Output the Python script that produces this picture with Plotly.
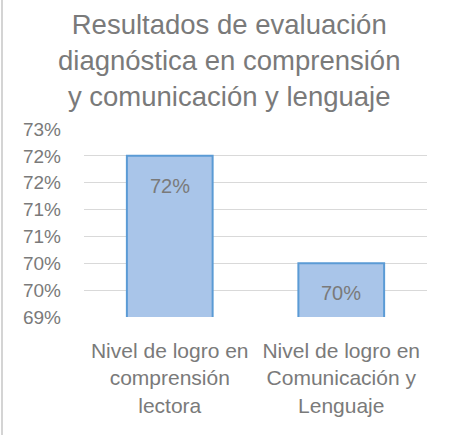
import plotly.graph_objects as go

categories = ["Nivel de logro en<br>comprensión<br>lectora",
              "Nivel de logro en<br>Comunicación y<br>Lenguaje"]
values = [0.72, 0.70]
value_labels = ["72%", "70%"]
tick_vals = [0.69, 0.695, 0.70, 0.705, 0.71, 0.715, 0.72, 0.725]
tick_labels = ["69%", "70%", "70%", "71%", "71%", "72%", "72%", "73%"]
title_text = "Resultados de evaluación<br>diagnóstica en comprensión<br>y comunicación y lenguaje"

W, H = 451, 435
ML, MR, MT, MB = 84, 24, 129, 118
TXT = "#7a7a7a"
FONT = "Liberation Sans, Arial, sans-serif"

ph = H - MT - MB
pw = W - ML - MR

def px_x(p):
    return (p - ML) / pw

def px_y(p):
    return (H - MB - p) / ph

fig = go.Figure()
fig.add_trace(go.Bar(
    x=categories, y=values,
    marker=dict(color="#a9c5e9", line=dict(color="#5b9bd5", width=2)),
    hoverinfo="skip",
))

for c, v, t in zip(categories, values, value_labels):
    fig.add_annotation(x=c, y=v, text=t, showarrow=False, yanchor="middle",
                       yshift=-30, font=dict(family=FONT, size=20, color=TXT))

# title
fig.add_annotation(xref="paper", yref="paper", x=px_x(229), y=px_y(7),
                   xanchor="center", yanchor="top", showarrow=False,
                   text=title_text, align="center",
                   font=dict(family=FONT, size=27.5, color=TXT))

# chart-area left border
fig.add_shape(type="line", xref="paper", yref="paper",
              x0=px_x(2), x1=px_x(2), y0=px_y(0), y1=px_y(H),
              line=dict(color="#d4d4d4", width=2))

fig.update_layout(
    width=W, height=H,
    margin=dict(l=ML, r=MR, t=MT, b=MB, pad=0, autoexpand=False),
    paper_bgcolor="white", plot_bgcolor="white",
    bargap=0.5,
    showlegend=False,
    xaxis=dict(showgrid=False, showline=False, zeroline=False,
               tickfont=dict(family=FONT, size=21, color=TXT),
               ticks="", ticklabelstandoff=19, automargin=False),
    yaxis=dict(range=[0.69, 0.725], tickvals=tick_vals, ticktext=tick_labels,
               showgrid=True, gridcolor="#d9d9d9", gridwidth=1,
               zeroline=False, showline=False, ticks="",
               ticklabelstandoff=22, automargin=False,
               tickfont=dict(family=FONT, size=19, color=TXT)),
)

fig.write_html("out.html", config={"displayModeBar": False},
               post_script="document.body.style.margin='0';")
